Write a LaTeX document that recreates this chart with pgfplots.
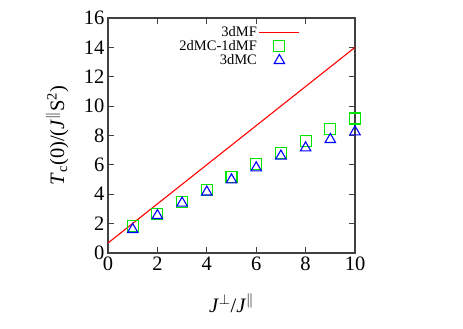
\documentclass[border=0pt]{standalone}
\usepackage{fontspec}
\setmainfont{Liberation Serif}
\usepackage{pgfplots}
\pgfplotsset{compat=1.18}
\definecolor{gpred}{RGB}{255,0,0}
\definecolor{gpgreen}{RGB}{0,230,0}
\definecolor{gpblue}{RGB}{0,0,255}
\begin{document}
\begin{tikzpicture}[font=\fontsize{15}{18}\selectfont]
\begin{axis}[
    scale only axis,
    width=247pt, height=235pt,
    xmin=0, xmax=10, ymin=0, ymax=16,
    xtick={0,2,...,10}, ytick={0,2,...,16},
    tick align=inside, minor tick num=0,
    major tick length=6pt,
    axis line style={line width=1.2pt, black!75},
    every tick/.style={line width=0.8pt, black!75},
    /pgf/number format/assume math mode=true,
    tick label style={font=\fontsize{20.5}{24}\selectfont},
    xlabel={\textit{J}$^{\perp}$/\textit{J}$^{\parallel}$},
    ylabel={\textit{T}\textsubscript{c}(0)/(\textit{J}$^{\parallel}$S\textsuperscript{2})},
    every axis x label/.style={at={(axis description cs:0.5,-0.213)}, anchor=center,
        font=\fontsize{20.5}{24}\selectfont},
    every axis y label/.style={at={(axis description cs:-0.206,0.5)}, rotate=90, anchor=center,
        font=\fontsize{20.5}{24}\selectfont},
    legend plot pos=right,
    legend cell align=right,
    legend style={draw=none, fill=none, at={(axis cs:7.9,15.7)}, anchor=north east,
        row sep=-1.5pt, font=\fontsize{14.5}{16}\selectfont},
    legend image code/.code={\draw[mark repeat=2,mark phase=2,#1] plot coordinates {(0pt,0pt)(20pt,0pt)(40pt,0pt)};},
]
\addplot[gpred, line width=1.1pt] coordinates {(0,0.68) (10,14.0)};
\addlegendentry{3dMF}
\addplot[only marks, mark=square, mark size=5.5pt, gpgreen, mark options={line width=1.1pt}] coordinates {
(1,1.86) (2,2.65) (3,3.5) (4,4.29) (5,5.18) (6,6.03) (7,6.78) (8,7.64) (9,8.44) (10,9.16)};
\addlegendentry{2dMC-1dMF}
\addplot[only marks, mark=triangle, mark size=6pt, gpblue, mark options={line width=1.1pt}] coordinates {
(1,1.6) (2,2.55) (3,3.4) (4,4.15) (5,4.98) (6,5.8) (7,6.6) (8,7.16) (9,7.73) (10,8.25)};
\addlegendentry{3dMC}
\end{axis}
\path[use as bounding box] (current axis.south west) ++(-108pt,-76pt) rectangle ++(463pt,329pt);
\end{tikzpicture}
\end{document}
